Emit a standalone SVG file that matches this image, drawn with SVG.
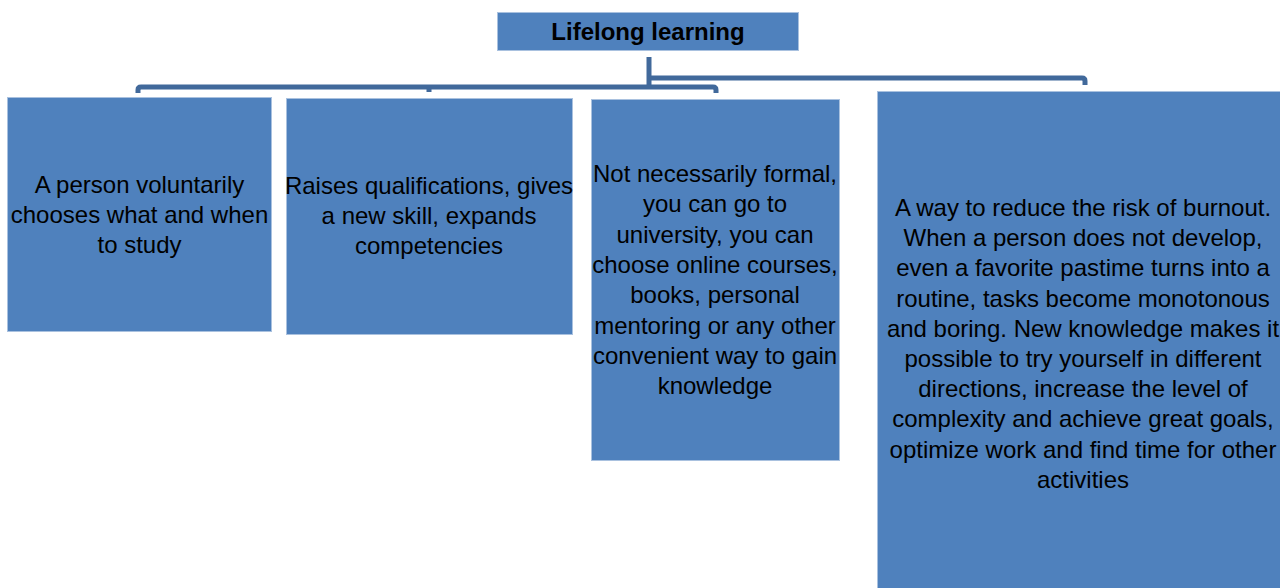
<svg xmlns="http://www.w3.org/2000/svg" width="1280" height="588" viewBox="0 0 1280 588">
<style>
.box{fill:#4f81bd;stroke:#a9c1df;stroke-width:1}
.t{font-family:"Liberation Sans",Arial,sans-serif;font-size:24px;fill:#000;text-anchor:middle}
.title{font-weight:bold}
.c{fill:none;stroke:#41699b;stroke-width:5;stroke-linejoin:round}
</style>
<rect width="1280" height="588" fill="#fff"/>
<g id="connectors">
<path class="c" d="M649,57 V88"/>
<path class="c" d="M138,93 V90 Q138,87 141,87 H713 Q716,87 716,90 V93"/>
<path class="c" d="M429,87 V92"/>
<path class="c" d="M651,78 H1082 Q1085,78 1085,81 V85"/>
</g>
<g id="root">
<rect class="box" x="497.5" y="12.5" width="301" height="38"/>
<text class="t title" x="648" y="40">Lifelong learning</text>
</g>
<g id="n1">
<rect class="box" x="7.5" y="97.5" width="264" height="234"/>
<text class="t" x="139.5" y="193"><tspan x="139.5">A person voluntarily</tspan><tspan x="139.5" dy="30">chooses what and when</tspan><tspan x="139.5" dy="30">to study</tspan></text>
</g>
<g id="n2">
<rect class="box" x="286.5" y="98.5" width="286" height="236"/>
<text class="t" x="429" y="194"><tspan x="429">Raises qualifications, gives</tspan><tspan x="429" dy="30">a new skill, expands</tspan><tspan x="429" dy="30">competencies</tspan></text>
</g>
<g id="n3">
<rect class="box" x="591.5" y="99.5" width="248" height="361"/>
<text class="t" x="715" y="182"><tspan x="715">Not necessarily formal,</tspan><tspan x="715" dy="30.3">you can go to</tspan><tspan x="715" dy="30.3">university, you can</tspan><tspan x="715" dy="30.3">choose online courses,</tspan><tspan x="715" dy="30.3">books, personal</tspan><tspan x="715" dy="30.3">mentoring or any other</tspan><tspan x="715" dy="30.3">convenient way to gain</tspan><tspan x="715" dy="30.3">knowledge</tspan></text>
</g>
<g id="n4">
<rect class="box" x="877.5" y="91.5" width="420" height="510"/>
<text class="t" x="1083" y="216"><tspan x="1083">A way to reduce the risk of burnout.</tspan><tspan x="1083" dy="30.2">When a person does not develop,</tspan><tspan x="1083" dy="30.2">even a favorite pastime turns into a</tspan><tspan x="1083" dy="30.2">routine, tasks become monotonous</tspan><tspan x="1083" dy="30.2">and boring. New knowledge makes it</tspan><tspan x="1083" dy="30.2">possible to try yourself in different</tspan><tspan x="1083" dy="30.2">directions, increase the level of</tspan><tspan x="1083" dy="30.2">complexity and achieve great goals,</tspan><tspan x="1083" dy="30.2">optimize work and find time for other</tspan><tspan x="1083" dy="30.2">activities</tspan></text>
</g>
</svg>
